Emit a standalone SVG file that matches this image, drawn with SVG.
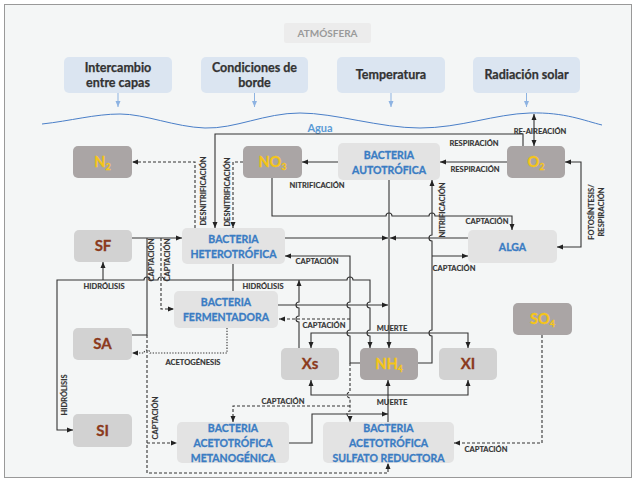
<svg xmlns="http://www.w3.org/2000/svg" width="636" height="481" viewBox="0 0 636 481">
<style>
text{font-family:Lato,"Open Sans","Liberation Sans",sans-serif;font-weight:bold}
.top{fill:#dbe5f1}
.tt{font-size:12.5px;fill:#333;text-anchor:middle;stroke:#333;stroke-width:0.25}
.dk{fill:#aaa5a5}
.lt{fill:#d2d2d2}
.bc{fill:#e3e3e3}
.yt{font-size:14.5px;fill:#f5c518;text-anchor:middle;stroke:#f5c518;stroke-width:0.3}
.bt{font-size:15px;fill:#8b3a1d;text-anchor:middle;stroke:#8b3a1d;stroke-width:0.3}
.bl{font-size:10.5px;fill:#3a7cc3;text-anchor:middle;stroke:#3a7cc3;stroke-width:0.3}
.lb{font-size:7.5px;fill:#333;text-anchor:middle;stroke:#333;stroke-width:0.15}
.ln{fill:none;stroke:#333;stroke-width:1.1}
.ds{stroke-dasharray:3,2}
.dt{stroke-dasharray:1.3,1.5}
</style>
<defs>
<marker id="a" markerUnits="userSpaceOnUse" markerWidth="6" markerHeight="6" refX="6" refY="3" orient="auto-start-reverse"><path d="M0,0.5 L6,3 L0,5.5 Z" fill="#222"/></marker>
<marker id="b" markerUnits="userSpaceOnUse" markerWidth="6" markerHeight="6" refX="6" refY="3" orient="auto"><path d="M0,0.5 L6,3 L0,5.5 Z" fill="#8db3e2"/></marker>
</defs>
<rect x="0" y="0" width="636" height="481" fill="#ffffff"/>
<rect x="4.5" y="4.5" width="627" height="473" fill="#f4f6f6" stroke="#999" stroke-width="1"/>

<g id="atmosfera"><rect x="284" y="23" width="87" height="20" rx="2" fill="#ececec"/><text x="327.5" y="37" font-size="10px" fill="#9a9a9a" text-anchor="middle">ATMÓSFERA</text></g>
<g id="intercambio"><rect class="top" x="64" y="57" width="108" height="36" rx="5"/><text class="tt" x="118" y="72">Intercambio</text><text class="tt" x="118" y="87">entre capas</text></g>
<g id="condiciones"><rect class="top" x="201" y="57" width="107" height="36" rx="5"/><text class="tt" x="254.5" y="72">Condiciones de</text><text class="tt" x="254.5" y="87">borde</text></g>
<g id="temperatura"><rect class="top" x="337" y="57" width="108" height="36" rx="5"/><text class="tt" x="391" y="79">Temperatura</text></g>
<g id="radiacion"><rect class="top" x="473" y="57" width="107" height="36" rx="5"/><text class="tt" x="526.5" y="79">Radiación solar</text></g>

<g id="agua">
<path d="M42,124 C70,121 95,114 120,114 S175,127 205,128 S265,113 300,113 S380,128 420,128 S495,114 530,113 S585,121 602,125" fill="none" stroke="#4a7fc8" stroke-width="1"/>
<text x="320" y="132" font-size="11px" fill="#5b9bd5" text-anchor="middle">Agua</text>
</g>

<g id="n2"><rect class="dk" x="73" y="146" width="59" height="32" rx="5"/><text class="yt" x="102.5" y="167">N<tspan font-size="9px" dy="3">2</tspan></text></g>
<g id="no3"><rect class="dk" x="243" y="146" width="59" height="32" rx="5"/><text class="yt" x="272.5" y="167">NO<tspan font-size="9px" dy="3">3</tspan></text></g>
<g id="o2"><rect class="dk" x="507" y="146" width="58" height="32" rx="5"/><text class="yt" x="536" y="167">O<tspan font-size="9px" dy="3">2</tspan></text></g>
<g id="autotrofica"><rect class="bc" x="338" y="143" width="102" height="37" rx="5"/><text class="bl" x="389" y="159">BACTERIA</text><text class="bl" x="389" y="174">AUTOTRÓFICA</text></g>
<g id="heterotrofica"><rect class="bc" x="182" y="228" width="103" height="36" rx="5"/><text class="bl" x="233.5" y="243">BACTERIA</text><text class="bl" x="233.5" y="258">HETEROTRÓFICA</text></g>
<g id="alga"><rect class="bc" x="468" y="230" width="89" height="33" rx="5"/><text class="bl" x="512.5" y="251">ALGA</text></g>
<g id="sf"><rect class="lt" x="74" y="230" width="58" height="32" rx="5"/><text class="bt" x="103" y="251">SF</text></g>
<g id="fermentadora"><rect class="bc" x="174" y="291" width="104" height="37" rx="5"/><text class="bl" x="226" y="306">BACTERIA</text><text class="bl" x="226" y="321">FERMENTADORA</text></g>
<g id="sa"><rect class="lt" x="73" y="328" width="59" height="32" rx="5"/><text class="bt" x="102.5" y="349">SA</text></g>
<g id="xs"><rect class="lt" x="281" y="348" width="58" height="32" rx="5"/><text class="bt" x="310" y="369">Xs</text></g>
<g id="nh4"><rect class="dk" x="360" y="348" width="58" height="32" rx="5"/><text class="yt" x="389" y="369">NH<tspan font-size="9px" dy="3">4</tspan></text></g>
<g id="xi"><rect class="lt" x="439" y="348" width="58" height="32" rx="5"/><text class="bt" x="468" y="369">XI</text></g>
<g id="so4"><rect class="dk" x="513" y="303" width="59" height="32" rx="5"/><text class="yt" x="542.5" y="324">SO<tspan font-size="9px" dy="3">4</tspan></text></g>
<g id="si"><rect class="lt" x="73" y="414" width="59" height="33" rx="5"/><text class="bt" x="102.5" y="436">SI</text></g>
<g id="metanogenica"><rect class="bc" x="177" y="422" width="112" height="41" rx="5"/><text class="bl" x="233" y="432">BACTERIA</text><text class="bl" x="233" y="447">ACETOTRÓFICA</text><text class="bl" x="233" y="462">METANOGÉNICA</text></g>
<g id="sulfato"><rect class="bc" x="323" y="422" width="131" height="41" rx="5"/><text class="bl" x="388.5" y="432">BACTERIA</text><text class="bl" x="388.5" y="447">ACETOTRÓFICA</text><text class="bl" x="388.5" y="462">SULFATO REDUCTORA</text></g>

<g id="connectors">
<g stroke="#8db3e2" stroke-width="1" fill="none">
<path d="M118,93 V107" marker-end="url(#b)"/>
<path d="M254.5,93 V107" marker-end="url(#b)"/>
<path d="M391,93 V107" marker-end="url(#b)"/>
<path d="M526.5,93 V107" marker-end="url(#b)"/>
</g>
<path class="ln" d="M523,146 V134 H215 V228" marker-end="url(#a)"/>
<path class="ln" d="M507,162 H440" marker-end="url(#a)"/>
<path class="ln" d="M338,162 H302" marker-end="url(#a)"/>
<path class="ln" d="M534,114 V146" marker-start="url(#a)" marker-end="url(#a)"/>
<path class="ln" d="M565,162 H581 V247 H557" marker-start="url(#a)" marker-end="url(#a)"/>
<path class="ln" d="M272,178 V216 H386 a3,3 0 0 1 6,0 H429 a3,3 0 0 1 6,0 H512 V230" marker-end="url(#a)"/>
<path class="ln ds" d="M243,162 H233 V228" marker-end="url(#a)"/>
<path class="ln ds" d="M195,228 V162 H132" marker-end="url(#a)"/>
<path class="ln" d="M132,238 H182" marker-end="url(#a)"/>
<path class="ln" d="M132,335 H147 V238"/>
<path class="ln ds" d="M161,238 V309 H174" marker-end="url(#a)"/>
<path class="ln" d="M299,348 V322 a3,3 0 0 1 0,-6 V308 a3,3 0 0 1 0,-6 V280" marker-end="url(#a)"/>
<path class="ln" d="M73,430 H57 V280 H144 a3,3 0 0 1 6,0 H158 a3,3 0 0 1 6,0 H347 a3,3 0 0 1 6,0 H370 V302 a3,3 0 0 0 0,6 V330 a3,3 0 0 0 0,6 V348" marker-start="url(#a)" marker-end="url(#a)"/>
<path class="ln" d="M103,280 V262" marker-end="url(#a)"/>
<path class="ln" d="M233,264 V291"/>
<path class="ln" d="M285,238 H388" marker-end="url(#a)"/>
<path class="ln" d="M468,238 H390" marker-end="url(#a)"/>
<path class="ln" d="M389,180 V348" marker-end="url(#a)"/>
<path class="ln" d="M278,305 H388" marker-end="url(#a)"/>
<path class="ln ds" d="M350,319 H279" marker-end="url(#a)"/>
<path class="ln" d="M360,363 H350 V336 a3,3 0 0 1 0,-6 V308 a3,3 0 0 1 0,-6 V256 H285" marker-end="url(#a)"/>
<path class="ln ds" d="M350,363 V392 a3,3 0 0 0 0,6 V411 a3,3 0 0 0 0,6 V422" marker-end="url(#a)"/>
<path class="ln ds" d="M350,406 H233 V422" marker-end="url(#a)"/>
<path class="ln" d="M389,333 H311 V348" marker-end="url(#a)"/>
<path class="ln" d="M389,333 H468 V348" marker-end="url(#a)"/>
<path class="ln" d="M418,363 H432 V336 a3,3 0 0 1 0,-6 V241 a3,3 0 0 1 0,-6 V180" marker-end="url(#a)"/>
<path class="ln" d="M432,256 H468" marker-end="url(#a)"/>
<path class="ln" d="M388,422 V380" marker-end="url(#a)"/>
<path class="ln" d="M388,395 H311 V380" marker-end="url(#a)"/>
<path class="ln" d="M388,395 H468 V380" marker-end="url(#a)"/>
<path class="ln" d="M289,443 H312 V414 H388" marker-end="url(#a)"/>
<path class="ln dt" d="M227,328 V353 H150 a3,3 0 0 0 -6,0 H132" marker-end="url(#a)"/>
<path class="ln ds" d="M147,335 V473 H388 V463" marker-end="url(#a)"/>
<path class="ln ds" d="M147,443 H177" marker-end="url(#a)"/>
<path class="ln ds" d="M542,335 V443 H454" marker-end="url(#a)"/>

<text class="lb" x="474" y="146">RESPIRACIÓN</text>
<text class="lb" x="475" y="172">RESPIRACIÓN</text>
<text class="lb" x="317" y="188">NITRIFICACIÓN</text>
<text class="lb" x="540" y="134" text-anchor="start">RE-AIREACIÓN</text>
<text class="lb" transform="translate(591,212) rotate(-90)" dy="2.6">FOTOSÍNTESIS/</text>
<text class="lb" transform="translate(601,212) rotate(-90)" dy="2.6">RESPIRACIÓN</text>
<text class="lb" x="487" y="224">CAPTACIÓN</text>
<text class="lb" transform="translate(203.5,191) rotate(-90)" dy="2.6">DESNITRIFICACIÓN</text>
<text class="lb" transform="translate(227,192) rotate(-90)" dy="2.6">DESNITRIFICACIÓN</text>
<text class="lb" transform="translate(151.5,260) rotate(-90)" dy="2.6">CAPTACIÓN</text>
<text class="lb" transform="translate(167.5,260) rotate(-90)" dy="2.6">CAPTACIÓN</text>
<text class="lb" x="104" y="289">HIDRÓLISIS</text>
<text class="lb" x="263" y="289">HIDRÓLISIS</text>
<text class="lb" x="317" y="264">CAPTACIÓN</text>
<text class="lb" x="324" y="328">CAPTACIÓN</text>
<text class="lb" x="392" y="330.5" text-anchor="start">MUERTE</text>
<text class="lb" transform="translate(442,210) rotate(-90)" dy="2.6">NITRIFICACIÓN</text>
<text class="lb" x="454" y="271">CAPTACIÓN</text>
<text class="lb" x="392" y="405" text-anchor="start">MUERTE</text>
<text class="lb" x="283" y="404">CAPTACIÓN</text>
<text class="lb" x="193" y="365">ACETOGÉNESIS</text>
<text class="lb" transform="translate(155,418) rotate(-90)" dy="2.6">CAPTACIÓN</text>
<text class="lb" x="486" y="452">CAPTACIÓN</text>
<text class="lb" transform="translate(64.5,395) rotate(-90)" dy="2.6">HIDRÓLISIS</text>
</g>
</svg>
